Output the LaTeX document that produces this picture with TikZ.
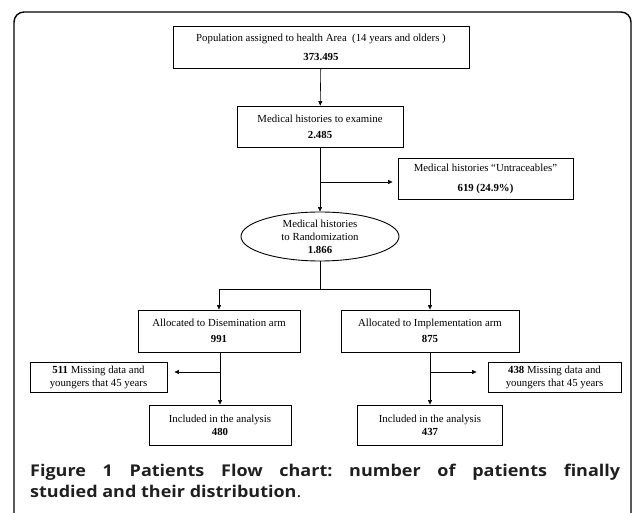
\documentclass[tikz,border=0pt]{standalone}
\usepackage{fontspec}
\setmainfont{Liberation Serif}
\newfontfamily\capfont{Open Sans}
\usetikzlibrary{arrows.meta,shapes.geometric}
\frenchspacing

\begin{document}
\begin{tikzpicture}[x=1pt,y=-1pt]
\tikzset{FlowBox/.style = {draw, line width=0.9pt, inner sep=0pt, align=center, font=\fontsize{10.8}{13}\selectfont},
         FlowArrow/.style = {line width=0.6pt, -{Triangle[length=4.5pt,width=4pt]}},
         FlowLine/.style = {line width=0.6pt},
         CaptionText/.style = {anchor=west, inner sep=0pt, text=black!88, yscale=0.9, transform shape,
                               font=\capfont\fontsize{18}{20}\selectfont}}
\useasboundingbox (0,0) rectangle (633,513);
% outer frame, open at the bottom
\draw[line width=1.4pt, rounded corners=10pt] (14,530) -- (14,12) -- (631,12) -- (631,530);
% boxes
\node[FlowBox, minimum width=296pt, minimum height=42pt] (pop) at (321,47) {Population assigned to health Area\ \ (14 years and olders )\\[6pt] \textbf{373.495}};
\node[FlowBox, minimum width=166pt, minimum height=41pt] (exam) at (320,126.5) {Medical histories to examine\\[3pt] \textbf{2.485}};
\node[FlowBox, minimum width=175pt, minimum height=41pt] (untr) at (485.5,178.5) {Medical histories ``Untraceables''\\[7pt] \textbf{619 (24.9\%)}};
\node[FlowBox, ellipse, minimum width=158pt, minimum height=49pt] (rand) at (320,236.5) {Medical histories\\ to Randomization\\ \textbf{1.866}};
\node[FlowBox, minimum width=162pt, minimum height=42pt] (dis) at (219,331) {Allocated to Disemination arm\\[3pt] \textbf{991}};
\node[FlowBox, minimum width=178pt, minimum height=42pt] (imp) at (430,331) {Allocated to Implementation arm\\[3pt] \textbf{875}};
\node[FlowBox, minimum width=137pt, minimum height=30pt] (missL) at (98.5,377.5) {\textbf{511} Missing data and\\ youngers that 45 years};
\node[FlowBox, minimum width=133pt, minimum height=30pt] (missR) at (554.5,377.5) {\textbf{438} Missing data and\\ youngers that 45 years};
\node[FlowBox, minimum width=142pt, minimum height=40pt] (inclL) at (220,425) {Included in the analysis\\ \textbf{480}};
\node[FlowBox, minimum width=145pt, minimum height=40pt] (inclR) at (430,425) {Included in the analysis\\ \textbf{437}};
\coordinate (split) at (320,289);
% connectors
\draw[FlowArrow] (pop) -- (exam);
\draw[FlowArrow] (exam) -- (rand);
\draw[FlowArrow, shorten >=5pt] (exam.south |- 0,182) -- (untr.west |- 0,182);
\draw[FlowLine] (rand) -- (split);
\draw[FlowArrow] (split) -| (dis.north);
\draw[FlowArrow] (split) -| (imp.north);
\draw[FlowArrow] (dis.south -| inclL.north) -- (inclL.north);
\draw[FlowArrow] (imp) -- (inclR);
\draw[FlowArrow, shorten >=7pt] (inclL.north |- 0,372) -- (missL.east |- 0,372);
\draw[FlowArrow, shorten >=11pt] (inclR.north |- 0,372) -- (missR.west |- 0,372);
% caption
\node[CaptionText] (capA) at (30,472) {\makebox[590pt][s]{\textbf{Figure 1} \textbf{Patients Flow chart: number of patients finally}}};
\node[CaptionText] (capB) at (30,491) {\textbf{studied and their distribution}.};
\end{tikzpicture}
\end{document}
